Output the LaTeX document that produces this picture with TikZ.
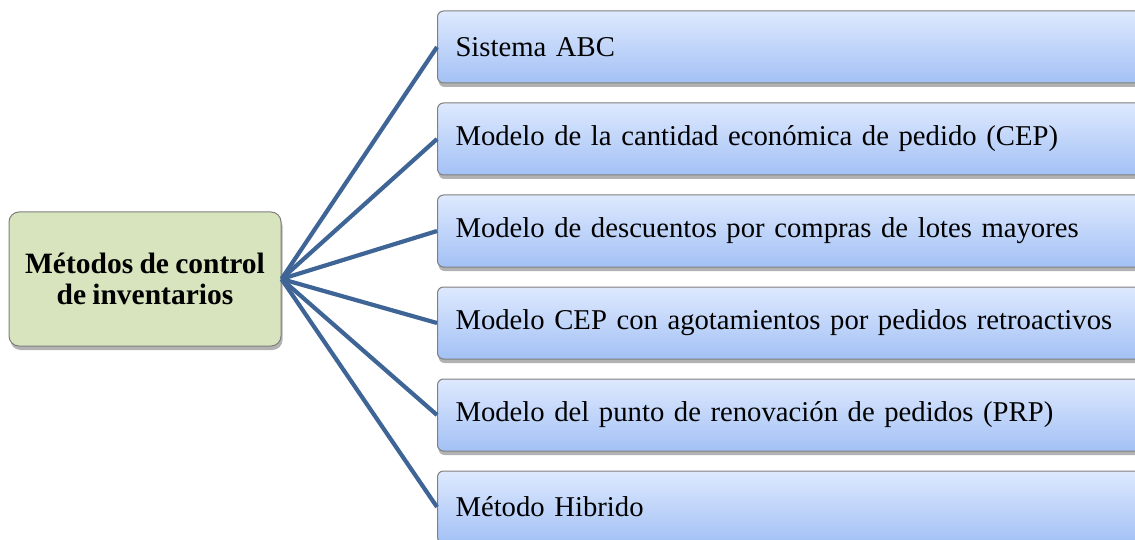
\documentclass[tikz,border=0pt]{standalone}
\usepackage{fontspec}
\setmainfont[WordSpace=0.85]{Liberation Serif}
\usetikzlibrary{shadows}
\definecolor{lgreen}{HTML}{D7E4BD}
\definecolor{btop}{HTML}{DEE9FE}
\definecolor{bbot}{HTML}{A3C1F5}
\definecolor{conn}{HTML}{3F6597}
\definecolor{bord}{HTML}{7F7F7F}
\tikzset{
  mainbox/.style={draw=bord, line width=1pt, fill=lgreen, rounded corners=10pt,
    minimum width=272pt, minimum height=134pt, align=center,
    font=\fontsize{29.5}{31}\selectfont\bfseries,
    drop shadow={shadow xshift=1.5pt, shadow yshift=-4pt, opacity=0.3, fill=black}},
  itembox/.style={draw=bord, line width=1pt, top color=btop, bottom color=bbot,
    rounded corners=6pt, minimum width=713pt, minimum height=72pt,
    text width=677pt, align=left, inner xsep=18pt, anchor=west,
    font=\fontsize{28.7}{32}\selectfont,
    drop shadow={shadow xshift=1pt, shadow yshift=-4pt, opacity=0.3, fill=black}},
  connector/.style={draw=conn, line width=4.2pt}
}
\begin{document}
\begin{tikzpicture}[x=1pt,y=1pt]
\useasboundingbox (0,0) rectangle (1135,-540);
\clip (0,0) rectangle (1135,-540);
\node[mainbox] (m) at (145,-279) {Métodos de control\\de inventarios};
\node[itembox] (b1) at (437,-47) {Sistema ABC};
\node[itembox] (b2) at (437,-139) {Modelo de la cantidad económica de pedido (CEP)};
\node[itembox] (b3) at (437,-231) {Modelo de descuentos por compras de lotes mayores};
\node[itembox] (b4) at (437,-323) {Modelo CEP con agotamientos por pedidos retroactivos};
\node[itembox] (b5) at (437,-415) {Modelo del punto de renovación de pedidos (PRP)};
\node[itembox] (b6) at (437,-507) {Método Hibrido};
\foreach \i in {1,...,6}{
  \draw[connector] (m.east) -- (b\i.west);
}
\end{tikzpicture}
\end{document}
